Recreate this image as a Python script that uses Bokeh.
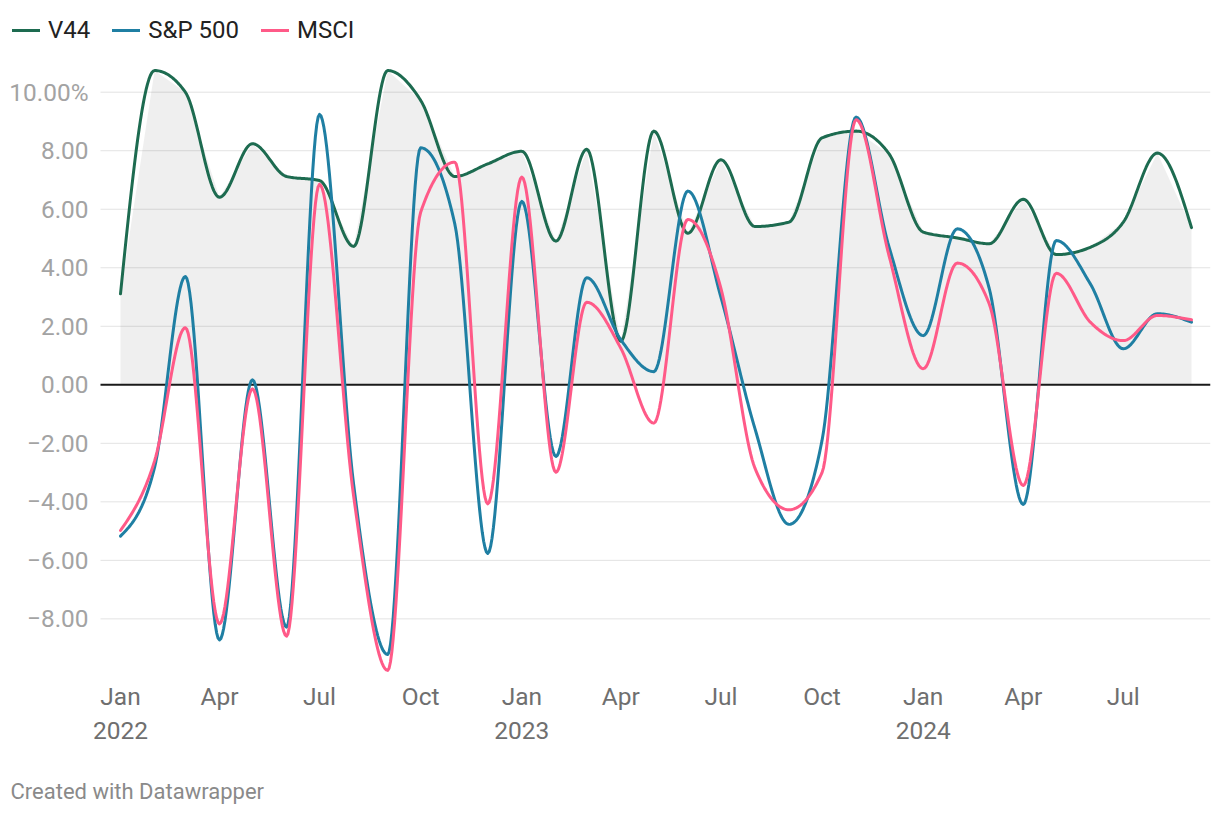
import numpy as np
import pandas as pd
from bokeh.plotting import figure
from bokeh.models import Range1d, FixedTicker, Legend, LegendItem, Title
from bokeh.core.properties import value
from bokeh.embed import file_html
from bokeh.resources import INLINE

# ---- data (monthly, Jan 2022 - Sep 2024) ----
months = pd.date_range("2022-01-01", periods=33, freq="MS")
v44 = [3.11, 10.74, 10.0, 6.41, 8.24, 7.12, 6.98, 4.73, 10.74, 9.72, 7.12, 7.55,
       7.98, 4.91, 8.05, 1.49, 8.67, 5.18, 7.69, 5.41, 5.56, 8.44, 8.67, 7.89,
       5.22, 5.02, 4.82, 6.34, 4.45, 4.70, 5.56, 7.92, 5.37]
sp500 = [-5.17, -2.82, 3.70, -8.72, 0.17, -8.28, 9.24, -3.40, -9.22, 8.10, 5.50, -5.76,
         6.27, -2.45, 3.66, 1.54, 0.45, 6.62, 3.00, -1.50, -4.77, -1.90, 9.15, 4.70,
         1.68, 5.33, 3.30, -4.09, 4.93, 3.45, 1.23, 2.43, 2.14]
msci = [-4.98, -2.60, 1.95, -8.17, -0.14, -8.59, 6.85, -3.80, -9.76, 5.90, 7.61, -4.07,
        7.10, -2.99, 2.82, 1.25, -1.31, 5.65, 3.30, -2.85, -4.27, -3.00, 9.06, 4.40,
        0.55, 4.16, 2.77, -3.44, 3.81, 2.14, 1.51, 2.37, 2.22]
series_names = ["V44", "S&P 500", "MSCI"]
series_colors = ["#1d6b50", "#1f7fa3", "#ff5a88"]

y_ticks = [-8, -6, -4, -2, 0, 2, 4, 6, 8, 10]
x_tick_dates = pd.date_range("2022-01-01", "2024-07-01", freq="3MS")


def ms(d):
    return pd.Timestamp(d).value / 1e6


def x_label(d):
    d = pd.Timestamp(d)
    return d.strftime("%b") + ("\n" + str(d.year) if d.month == 1 else "")


def y_label(v):
    s = f"{abs(v):.2f}"
    if v < 0:
        s = "\u2212" + s
    if v == max(y_ticks):
        s += "%"
    return s


def monotone(xs, ys, n=24):
    """d3 curveMonotoneX-like interpolation for smooth display."""
    x = np.asarray(xs, float)
    y = np.asarray(ys, float)
    h = np.diff(x)
    s = np.diff(y) / h
    m = np.zeros_like(y)
    sg = lambda a: -1.0 if a < 0 else 1.0
    for i in range(1, len(y) - 1):
        p = (s[i - 1] * h[i] + s[i] * h[i - 1]) / (h[i - 1] + h[i])
        m[i] = (sg(s[i - 1]) + sg(s[i])) * min(abs(s[i - 1]), abs(s[i]), 0.5 * abs(p))
        if s[i - 1] == 0 or s[i] == 0:
            m[i] = 0.0
    m[0] = (3 * s[0] - m[1]) / 2
    m[-1] = (3 * s[-1] - m[-2]) / 2
    ox, oy = [], []
    for i in range(len(y) - 1):
        t = np.linspace(0, 1, n, endpoint=(i == len(y) - 2))
        h00 = 2 * t**3 - 3 * t**2 + 1
        h10 = t**3 - 2 * t**2 + t
        h01 = -2 * t**3 + 3 * t**2
        h11 = t**3 - t**2
        ox.append(x[i] + t * h[i])
        oy.append(h00 * y[i] + h10 * h[i] * m[i] + h01 * y[i + 1] + h11 * h[i] * m[i + 1])
    return np.concatenate(ox), np.concatenate(oy)


xm = np.array([ms(d) for d in months])

# layout (pixels)
FRAME_W, FRAME_H = 1210, 678
X0_PX, XN_PX = 120.0, 1191.0          # first / last month position
ZERO_PX, PX_PER_UNIT = 384.3, 29.26   # y = 0 position, pixels per percent
px_per_ms = (XN_PX - X0_PX) / (xm[-1] - xm[0])
x_start = xm[0] - X0_PX / px_per_ms
x_end = x_start + FRAME_W / px_per_ms
y_top = ZERO_PX / PX_PER_UNIT
y_bottom = y_top - FRAME_H / PX_PER_UNIT


def x_at(px):
    return x_start + px / px_per_ms


p = figure(
    frame_width=FRAME_W, frame_height=FRAME_H,
    min_border_left=0, min_border_right=8, min_border_top=0, min_border_bottom=136,
    x_range=Range1d(x_start, x_end), y_range=Range1d(y_bottom, y_top),
    y_axis_location=None,
    output_backend="svg", toolbar_location=None,
    background_fill_color="white", border_fill_color="white",
)
p.outline_line_color = None
p.xgrid.visible = False
p.ygrid.visible = False

# horizontal grid lines (value axis), starting right of the labels
grid_vals = [v for v in y_ticks if v != 0]
p.segment(x0=[x_at(100)] * len(grid_vals), x1=[x_at(1210)] * len(grid_vals),
          y0=grid_vals, y1=grid_vals, line_color="#e3e3e3", line_width=1)

# area under V44 (straight segments, like the reference)
p.varea(x=xm, y1=0, y2=v44, fill_color="#000000", fill_alpha=0.063)

# zero baseline
p.segment(x0=[x_at(100)], x1=[x_at(1210)], y0=[0], y1=[0], line_color="#1a1a1a", line_width=2)

# value-axis labels
p.text(x=[x_at(88)] * len(y_ticks), y=y_ticks, text=[y_label(v) for v in y_ticks],
       text_align="right", text_baseline="middle", text_font=value("Roboto"),
       text_font_size="24.4px", text_color="#a3a3a3")

renderers = []
for vals, color in zip([v44, sp500, msci], series_colors):
    sx, sy = monotone(xm, vals)
    r = p.line(sx, sy, line_color=color, line_width=3, line_join="round", line_cap="round")
    renderers.append(r)

# time axis
p.xaxis.ticker = FixedTicker(ticks=[ms(d) for d in x_tick_dates])
p.xaxis.major_label_overrides = {ms(d): x_label(d) for d in x_tick_dates}
p.xaxis.axis_line_color = None
p.xaxis.major_tick_line_color = None
p.xaxis.minor_tick_line_color = None
p.xaxis.major_tick_in = 0
p.xaxis.major_tick_out = 0
p.xaxis.major_label_text_font = "Roboto"
p.xaxis.major_label_text_font_size = "24.5px"
p.xaxis.major_label_text_color = "#6f6f6f"
p.xaxis.major_label_standoff = 3

legend = Legend(
    items=[LegendItem(label=n, renderers=[r]) for n, r in zip(series_names, renderers)],
    orientation="horizontal", location=(12, FRAME_H - 31 - 13),
    label_text_font="Roboto", label_text_font_size="24px", label_text_color="#222222",
    glyph_width=28, glyph_height=26, label_standoff=8, spacing=22,
    padding=0, margin=0, border_line_color=None, background_fill_alpha=0,
)
p.add_layout(legend)

p.add_layout(Title(text="Created with Datawrapper", align="left", offset=10,
                   standoff=56, text_font="Roboto", text_font_style="normal",
                   text_font_size="22px", text_color="#8a8a8a"), "below")

open("out.html", "w").write(file_html(p, INLINE))
